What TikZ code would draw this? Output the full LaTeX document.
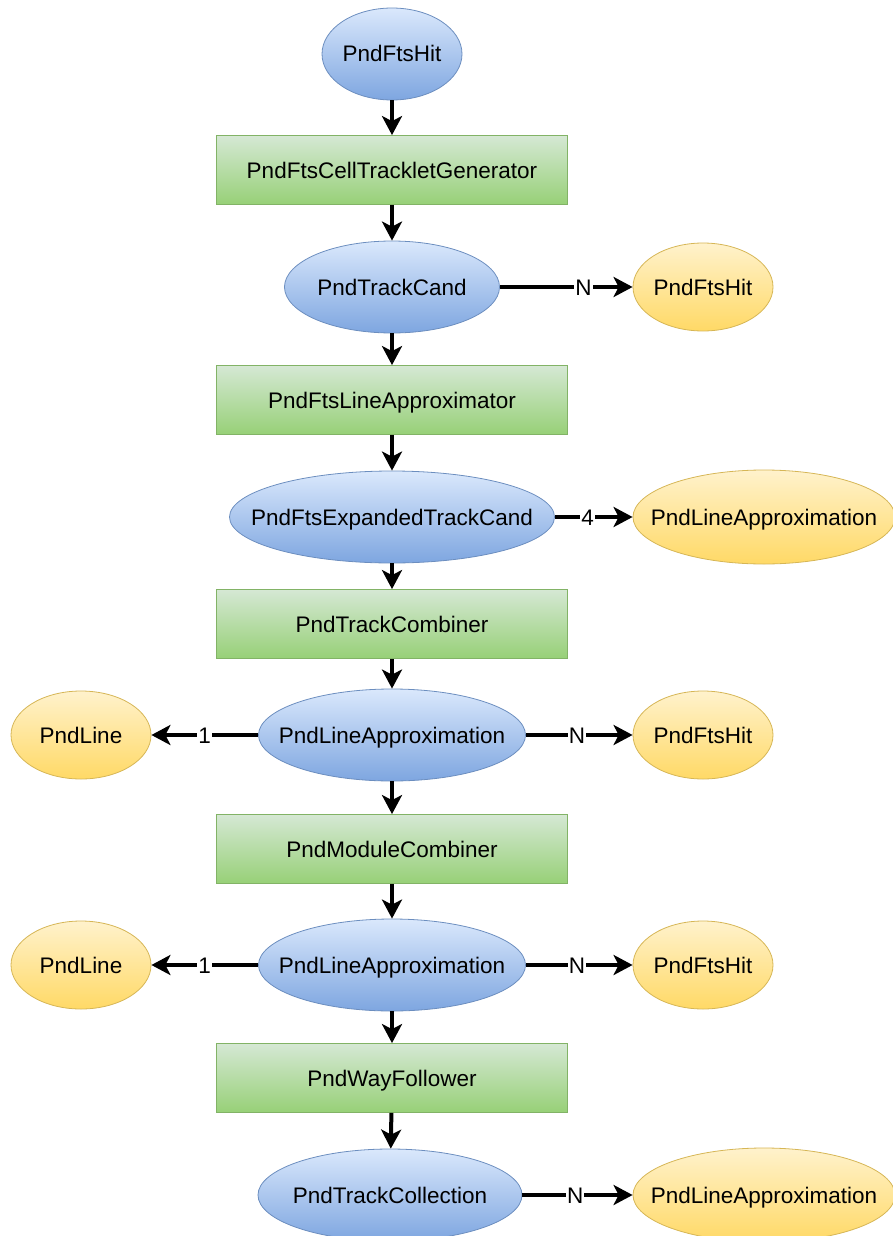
\documentclass[tikz,border=0pt]{standalone}
\usepackage{fontspec}
\setmainfont{Liberation Sans}
\usepackage{tikz}
\usetikzlibrary{
  arrows.meta,
  shapes.geometric,
}
\definecolor{dataTop}{HTML}{DAE8FC}
\definecolor{dataBot}{HTML}{7EA6E0}
\definecolor{dataLine}{HTML}{6C8EBF}
\definecolor{procTop}{HTML}{D5E8D4}
\definecolor{procBot}{HTML}{97D077}
\definecolor{procLine}{HTML}{82B366}
\definecolor{linkTop}{HTML}{FFF2CC}
\definecolor{linkBot}{HTML}{FFD966}
\definecolor{linkLine}{HTML}{D6B656}
\newcommand{\ctext}[1]{\makebox[0pt]{#1}}
\tikzset{
  dataell/.style={ellipse, draw=dataLine, top color=dataTop, bottom color=dataBot,
    minimum height=92, inner sep=0pt, line width=0.8pt,
    text height=16pt, text depth=0pt},
  linkell/.style={ellipse, draw=linkLine, top color=linkTop, bottom color=linkBot,
    minimum height=88, inner sep=0pt, line width=0.8pt,
    text height=16pt, text depth=0pt},
  procbox/.style={rectangle, draw=procLine, top color=procTop, bottom color=procBot,
    minimum width=351, minimum height=69, inner sep=0pt, line width=0.8pt,
    text height=16pt, text depth=0pt},
  flow/.style={-{Stealth[length=19pt,width=20pt,inset=5pt]}, line width=4pt},
  lbl/.style={fill=white, inner sep=1pt, text height=16pt, text depth=0pt},
}

\begin{document}
\begin{tikzpicture}[x=1pt, y=-1pt, font=\fontsize{22.5}{26}\selectfont]
\useasboundingbox (0,0) rectangle (893,1236);

% processing steps
\foreach \name/\txt/\y in {%
  gen/PndFtsCellTrackletGenerator/170,%
  lin/PndFtsLineApproximator/400,%
  trc/PndTrackCombiner/624,%
  mod/PndModuleCombiner/849,%
  way/PndWayFollower/1078%
}
{
  \node[procbox] (\name) at (392, \y) {\txt};
}

% data objects along the chain
\node[dataell, minimum width=140] (hit) at (392, 54) {\ctext{PndFtsHit}};
\node[dataell, minimum width=215] (cand) at (392, 287) {\ctext{PndTrackCand}};
\node[dataell, minimum width=325] (exp) at (392, 517) {\ctext{PndFtsExpandedTrackCand}};
\node[dataell, minimum width=267] (appA) at (392, 735) {\ctext{PndLineApproximation}};
\node[dataell, minimum width=267] (appB) at (392, 965) {\ctext{PndLineApproximation}};
\node[dataell, minimum width=264] (coll) at (390, 1195) {\ctext{PndTrackCollection}};

% linked objects
\node[linkell, minimum width=140] (hitA) at (703, 287) {\ctext{PndFtsHit}};
\node[linkell, minimum width=262, minimum height=94] (appX) at (764, 517) {\ctext{PndLineApproximation}};
\node[linkell, minimum width=140] (lineA) at (81, 735) {\ctext{PndLine}};
\node[linkell, minimum width=140] (hitB) at (703, 735) {\ctext{PndFtsHit}};
\node[linkell, minimum width=140] (lineB) at (81, 965) {\ctext{PndLine}};
\node[linkell, minimum width=140] (hitC) at (703, 965) {\ctext{PndFtsHit}};
\node[linkell, minimum width=262, minimum height=94] (appY) at (764, 1195) {\ctext{PndLineApproximation}};

% main chain
\draw[flow] (hit) -- (gen);
\draw[flow] (gen) -- (cand);
\draw[flow] (cand) -- (lin);
\draw[flow] (lin) -- (exp);
\draw[flow] (exp) -- (trc);
\draw[flow] (trc) -- (appA);
\draw[flow] (appA) -- (mod);
\draw[flow] (mod) -- (appB);
\draw[flow] (appB) -- (way);
\draw[flow] (way) -- (coll);

% references
\draw[flow] (cand) -- node[lbl, pos=0.63] {N} (hitA);
\draw[flow] (exp) -- node[lbl, pos=0.42] {4} (appX);
\draw[flow] (appA) -- node[lbl, pos=0.5] {1} (lineA);
\draw[flow] (appA) -- node[lbl, pos=0.48] {N} (hitB);
\draw[flow] (appB) -- node[lbl, pos=0.5] {1} (lineB);
\draw[flow] (appB) -- node[lbl, pos=0.48] {N} (hitC);
\draw[flow] (coll) -- node[lbl, pos=0.48] {N} (appY);

\end{tikzpicture}
\end{document}
